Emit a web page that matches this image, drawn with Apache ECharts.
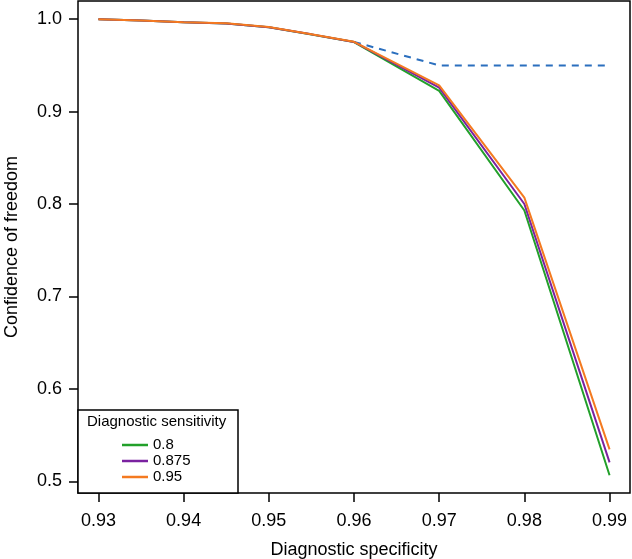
<!DOCTYPE html>
<html>
<head>
<meta charset="utf-8">
<script src="https://cdn.jsdelivr.net/npm/echarts@6/dist/echarts.min.js"></script>
<style>html,body{margin:0;padding:0;background:#fff;}#c{width:632px;height:559px;}</style>
</head>
<body>
<div id="c"></div>
<script>
const specificity = [0.93, 0.935, 0.94, 0.945, 0.95, 0.955, 0.96, 0.97, 0.98, 0.99];
const sens08   = [1.0, 0.9985, 0.9968, 0.9953, 0.9913, 0.9835, 0.9753, 0.9225, 0.793, 0.5065];
const sens0875 = [1.0, 0.9985, 0.9968, 0.9954, 0.9914, 0.9836, 0.9754, 0.926, 0.800, 0.5205];
const sens095  = [1.0, 0.9985, 0.9968, 0.9955, 0.9915, 0.9837, 0.9755, 0.9285, 0.807, 0.5345];
const targetX = [0.96, 0.97, 0.98, 0.99];
const targetY = [0.9755, 0.95, 0.95, 0.95];
const xTicks = [0.93, 0.94, 0.95, 0.96, 0.97, 0.98, 0.99];
const yTicks = [0.5, 0.6, 0.7, 0.8, 0.9, 1.0];
const legendNames = ['0.8', '0.875', '0.95'];
const colors = ['#22a02a', '#7a22a0', '#f47a20'];

const pair = (xs, ys) => xs.map((x, i) => [x, ys[i]]);
const chart = echarts.init(document.getElementById('c'), null, {renderer: 'canvas'});
const font = 'Liberation Sans, Arial, Helvetica, sans-serif';
const lineSeries = [sens08, sens0875, sens095].map((d, i) => ({
  name: legendNames[i], type: 'line', data: pair(specificity, d),
  symbol: 'none', lineStyle: {color: colors[i], width: 2}, itemStyle: {color: colors[i]},
  animation: false, z: 3 + i
}));
chart.setOption({
  animation: false,
  textStyle: {fontFamily: font},
  grid: {left: 78, right: 2, top: 1, bottom: 66, show: true, borderColor: '#000', borderWidth: 1.5,
    backgroundColor: 'transparent', containLabel: false, outerBoundsMode: 'none'},
  xAxis: {
    type: 'value', min: 0.9276, max: 0.9924,
    name: 'Diagnostic specificity', nameLocation: 'middle', nameGap: 48,
    nameTextStyle: {fontSize: 18, color: '#000', fontFamily: font},
    axisLine: {show: false}, splitLine: {show: false},
    axisTick: {show: true, length: 9, lineStyle: {color: '#000', width: 1.5}, customValues: xTicks},
    axisLabel: {fontSize: 18, color: '#000', margin: 19, fontFamily: font, customValues: xTicks,
      formatter: v => v.toFixed(2)}
  },
  yAxis: {
    type: 'value', min: 0.4873, max: 1.0197,
    name: 'Confidence of freedom', nameLocation: 'middle', nameGap: 57, nameRotate: 90,
    nameTextStyle: {fontSize: 18, color: '#000', fontFamily: font},
    axisLine: {show: false}, splitLine: {show: false},
    axisTick: {show: true, length: 9, lineStyle: {color: '#000', width: 1.5}, customValues: yTicks},
    axisLabel: {fontSize: 18, color: '#000', margin: 16, fontFamily: font, customValues: yTicks,
      formatter: v => v.toFixed(1)}
  },
  legend: {
    data: legendNames, orient: 'vertical', left: 117, top: 432, itemGap: 0,
    itemWidth: 26, itemHeight: 2.5, icon: 'rect',
    textStyle: {fontSize: 15, color: '#000', lineHeight: 16, fontFamily: font},
    selectedMode: false, z: 10
  },
  graphic: [
    {type: 'rect', z: 1, shape: {x: 78, y: 410, width: 160, height: 83},
      style: {fill: '#fff', stroke: '#000', lineWidth: 1.5}},
    {type: 'text', z: 11, x: 87, y: 422,
      style: {text: 'Diagnostic sensitivity', fontSize: 15, fontFamily: font, fill: '#000', verticalAlign: 'middle'}}
  ],
  series: [
    ...lineSeries,
    {name: 'target', type: 'line', data: pair(targetX, targetY), symbol: 'none',
      lineStyle: {color: '#2b6fbe', width: 2, type: [7, 6]}, animation: false, z: 2}
  ]
});
</script>
</body>
</html>
